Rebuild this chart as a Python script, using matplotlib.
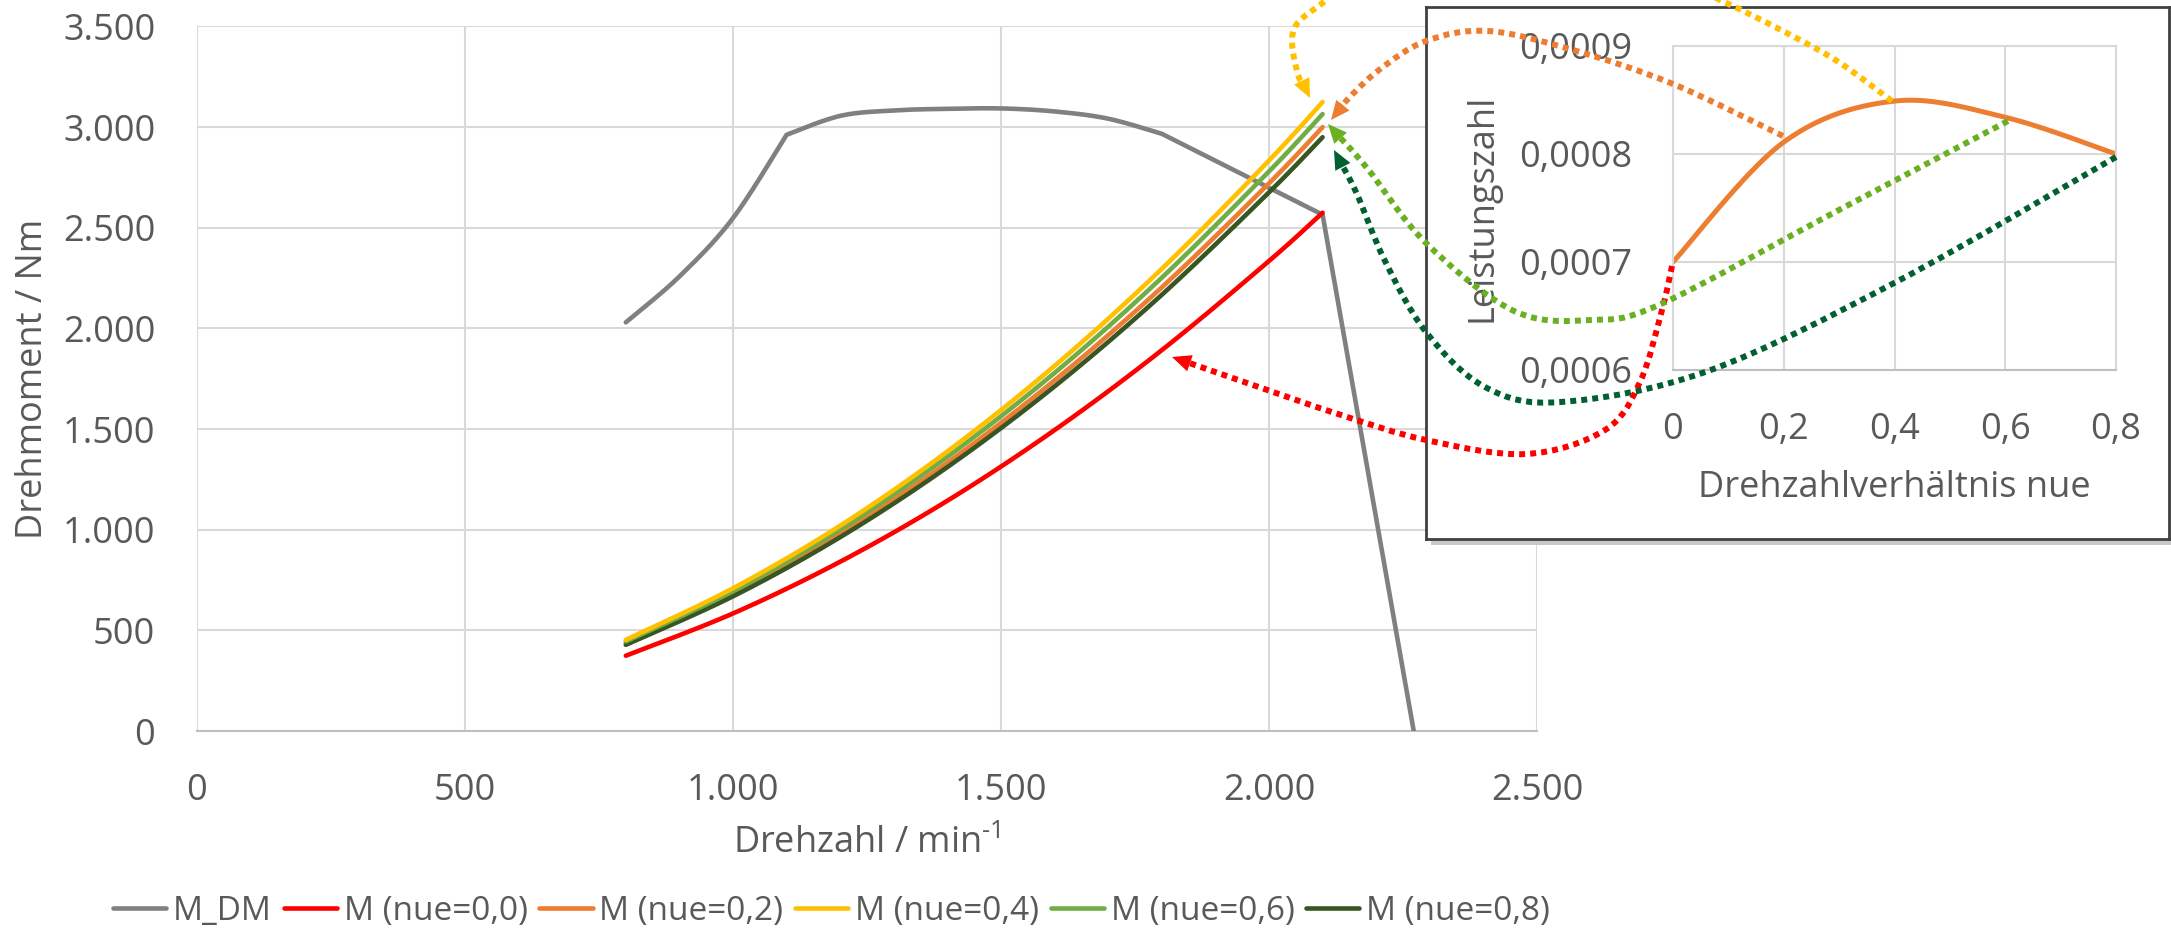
import matplotlib
matplotlib.use('Agg')
import matplotlib.pyplot as plt
import numpy as np
from matplotlib.path import Path
from matplotlib.patches import PathPatch, Polygon, Rectangle
from matplotlib.ticker import FuncFormatter

plt.rcParams['font.family'] = ['Open Sans', 'DejaVu Sans']
plt.rcParams['font.size'] = 26
plt.rcParams['mathtext.fontset'] = 'custom'
plt.rcParams['mathtext.rm'] = 'Open Sans'

# Main chart data
n_dm = [800, 900, 1000, 1100, 1200, 1300, 1400, 1500, 1600, 1700, 1800, 2100, 2270]
m_dm = [2030, 2258, 2548, 2962, 3056, 3083, 3091, 3093, 3078, 3042, 2967, 2565, 0]
dm_kinks = [0, 3, 10, 11, 12]  # indices where the full-load curve has corners

n_m = [800, 1000, 1200, 1400, 1600, 1800, 2000, 2100]
m_nue00 = [374, 584, 841, 1144, 1495, 1892, 2335, 2575]
m_nue02 = [435, 680, 980, 1333, 1742, 2204, 2721, 3000]
m_nue04 = [453, 709, 1020, 1389, 1814, 2296, 2834, 3125]
m_nue06 = [445, 695, 1001, 1362, 1779, 2252, 2780, 3065]
m_nue08 = [428, 669, 963, 1311, 1712, 2167, 2676, 2950]

# Inset data
nue = [0.0, 0.2, 0.4, 0.6, 0.8]
leistungszahl = [0.000700, 0.000811, 0.000849, 0.000834, 0.000800]

W, H = 2171, 930
TXT = '#595959'
GRID = '#d9d9d9'


def catmull(pts):
    """Catmull-Rom through the points -> list of cubic bezier segments."""
    p = np.asarray(pts, float)
    p = np.vstack([p[0], p, p[-1]])
    segs = []
    for i in range(1, len(p) - 2):
        c1 = p[i] + (p[i + 1] - p[i - 1]) / 6
        c2 = p[i + 1] - (p[i + 2] - p[i]) / 6
        segs.append((p[i], c1, c2, p[i + 1]))
    return segs


def smooth(xs, ys, k=25):
    """Excel-like smoothed line, evaluated densely."""
    t = np.linspace(0, 1, k)[:, None]
    out = []
    for a, b, c, d in catmull(list(zip(xs, ys))):
        out.append((1 - t) ** 3 * a + 3 * (1 - t) ** 2 * t * b + 3 * (1 - t) * t ** 2 * c + t ** 3 * d)
    out = np.vstack(out)
    return out[:, 0], out[:, 1]


def bez_path(pts):
    segs = catmull(pts)
    verts = [segs[0][0]]
    codes = [Path.MOVETO]
    for a, b, c, d in segs:
        verts += [b, c, d]
        codes += [Path.CURVE4] * 3
    return verts, codes


fig = plt.figure(figsize=(W / 100, H / 100), dpi=100)

# ---------------- main axes ----------------
ax = fig.add_axes([197 / W, 1 - 731 / H, 1340 / W, 704.5 / H], zorder=0)
series = [
    ('M_DM', n_dm, m_dm, '#808080'),
    ('M (nue=0,0)', n_m, m_nue00, '#ff0000'),
    ('M (nue=0,2)', n_m, m_nue02, '#ed7d31'),
    ('M (nue=0,4)', n_m, m_nue04, '#ffc000'),
    ('M (nue=0,6)', n_m, m_nue06, '#70ad47'),
    ('M (nue=0,8)', n_m, m_nue08, '#375623'),
]
order = [0, 1, 2, 5, 4, 3]  # yellow last so it sits on top
handles = [None] * len(series)
for i in order:
    lab, xs, ys, c = series[i]
    if i == 0:
        # smooth between the corners only
        px, py = [], []
        for a, b in zip(dm_kinks[:-1], dm_kinks[1:]):
            sx, sy = smooth(xs[a:b + 1], ys[a:b + 1])
            px.extend(sx)
            py.extend(sy)
        sx, sy = px, py
    else:
        sx, sy = smooth(xs, ys)
    ln, = ax.plot(sx, sy, color=c, lw=3.3, label=lab,
                  solid_capstyle='round', solid_joinstyle='round', zorder=3)
    handles[i] = ln

ax.set_xlim(0, 2500)
ax.set_ylim(0, 3500)
ax.set_xticks(np.arange(0, 2501, 500))
ax.set_yticks(np.arange(0, 3501, 500))
thousands = FuncFormatter(lambda v, p: f'{int(v):,}'.replace(',', '.'))
ax.xaxis.set_major_formatter(thousands)
ax.yaxis.set_major_formatter(thousands)
ax.grid(True, color=GRID, lw=1.5)
ax.set_axisbelow(True)
for s in ['top', 'right', 'left']:
    ax.spines[s].set_visible(False)
ax.spines['bottom'].set_color('#bfbfbf')
ax.spines['bottom'].set_linewidth(1.5)
ax.tick_params(length=0, colors=TXT, labelsize=26)
ax.tick_params(axis='y', pad=30)
ax.tick_params(axis='x', pad=30)
ax.set_xlabel('Drehzahl / min$^{\\text{-1}}$', color=TXT, fontsize=26)
ax.set_ylabel('Drehmoment / Nm', color=TXT, fontsize=26)
ax.xaxis.set_label_coords(0.5, -0.135)
ax.yaxis.set_label_coords(-0.109, 0.5)

fig.legend(handles=handles, loc='center', bbox_to_anchor=(0.383, 0.02),
           ncol=6, frameon=False, fontsize=24, labelcolor=TXT,
           handlelength=1.6, handletextpad=0.2, columnspacing=0.35)

# ---------------- inset box ----------------
bx0, by0, bx1, by1 = 1426, 7, 2169, 539
fig.add_artist(Rectangle(((bx0 + 5) / W, 1 - (by1 + 6) / H), (bx1 - bx0) / W,
                         (by1 - by0) / H, transform=fig.transFigure,
                         facecolor='#c8c8c8', edgecolor='none', zorder=1))
box = fig.add_axes([bx0 / W, 1 - by1 / H, (bx1 - bx0) / W, (by1 - by0) / H],
                   zorder=2)
box.set_xticks([])
box.set_yticks([])
for s in box.spines.values():
    s.set_color('#404040')
    s.set_linewidth(2)

ins = fig.add_axes([1673 / W, 1 - 370 / H, 443 / W, 324 / H], zorder=3)
ins.patch.set_alpha(0)
sx, sy = smooth(nue, leistungszahl)
ins.plot(sx, sy, color='#ed7d31', lw=3.6, solid_capstyle='round')
ins.set_xlim(0, 0.8)
ins.set_ylim(0.0006, 0.0009)
ins.set_xticks([0, 0.2, 0.4, 0.6, 0.8])
ins.set_yticks([0.0006, 0.0007, 0.0008, 0.0009])
ins.xaxis.set_major_formatter(FuncFormatter(lambda v, p: '0' if v == 0 else f'{v:.1f}'.replace('.', ',')))
ins.yaxis.set_major_formatter(FuncFormatter(lambda v, p: f'{v:.4f}'.replace('.', ',')))
ins.grid(True, color=GRID, lw=1.5)
for s in ins.spines.values():
    s.set_color(GRID)
    s.set_linewidth(1.5)
ins.spines['bottom'].set_color('#bfbfbf')
ins.tick_params(length=0, colors=TXT, labelsize=26)
ins.tick_params(axis='y', pad=29.5)
ins.tick_params(axis='x', pad=30)
ins.set_xlabel('Drehzahlverhältnis nue', color=TXT, fontsize=26)
ins.xaxis.set_label_coords(0.5, -0.31)
ins.set_ylabel('Leistungszahl', color=TXT, fontsize=26)
ins.yaxis.set_label_coords(-0.39, 0.5)

# ---------------- dotted connector arrows (pixel waypoints, y down) ----------------
arrows = [
    ('#ff0000', [(1672, 266), (1662, 310), (1640, 382), (1605, 430), (1526, 454),
                 (1426, 440), (1338, 414), (1250, 384), (1172, 357)]),
    ('#00602f', [(2116, 157), (1896, 282), (1708, 371), (1561, 402), (1485, 387),
                 (1426, 332), (1385, 261), (1356, 192), (1334, 150)]),
    ('#6ab023', [(2008, 121), (1837, 211), (1661, 304), (1591, 320), (1514, 311),
                 (1426, 243), (1367, 168), (1328, 124)]),
    ('#ed7d31', [(1783, 136), (1673, 84), (1573, 50), (1488, 31), (1426, 41),
                 (1379, 70), (1347, 100), (1331, 120)]),
    ('#ffc000', [(1892, 101), (1837, 61), (1779, 29), (1720, 0), (1620, -45),
                 (1480, -70), (1370, -40), (1326, 0), (1294, 29), (1297, 71),
                 (1310, 98)]),
]
head_len, head_half = 19.0, 8.5
for c, pts in arrows:
    pts = np.asarray(pts, float)
    # stop the dotted body at the head base
    verts, codes = bez_path(pts)
    tip = np.array(verts[-1])
    d = tip - np.array(verts[-2])
    d /= np.hypot(*d)
    base = tip - d * head_len
    verts[-1] = tuple(base)
    verts[-2] = tuple(np.array(verts[-2]) - d * head_len * 0.5)
    figv = [(x / W, 1 - y / H) for x, y in verts]
    fig.add_artist(PathPatch(Path(figv, codes), transform=fig.transFigure,
                             fill=False, edgecolor=c, lw=4.3,
                             linestyle=(0, (1.0, 0.85)), capstyle='butt',
                             zorder=5, clip_on=False))
    nrm = np.array([-d[1], d[0]])
    tri = [tip, base + nrm * head_half, base - nrm * head_half]
    fig.add_artist(Polygon([(x / W, 1 - y / H) for x, y in tri], closed=True,
                           transform=fig.transFigure, facecolor=c,
                           edgecolor='none', zorder=5, clip_on=False))

fig.savefig('out.png', dpi=100, facecolor='white')
